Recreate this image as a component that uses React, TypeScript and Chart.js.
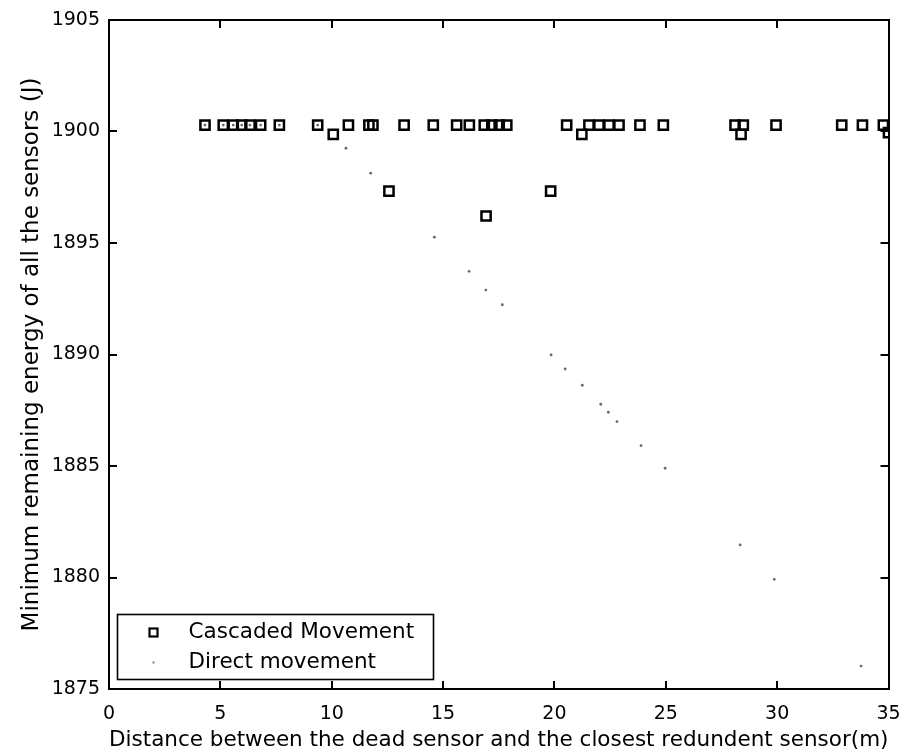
import React, { useEffect, useRef } from "react";
import { Chart, registerables } from "chart.js";

Chart.register(...registerables);

const cascadedX = [4.31, 5.13, 5.58, 5.96, 6.33, 6.81, 7.65, 9.37, 10.07, 10.75, 11.67, 11.85, 12.57, 13.25, 14.56, 15.61, 16.18, 16.85, 16.93, 17.19, 17.52, 17.86, 19.83, 20.55, 21.23, 21.55, 22.0, 22.45, 22.9, 23.84, 24.89, 28.11, 28.38, 28.48, 29.95, 32.9, 33.83, 34.77, 35.0];
const cascadedY = [1900.29, 1900.29, 1900.29, 1900.29, 1900.29, 1900.29, 1900.29, 1900.29, 1899.87, 1900.29, 1900.29, 1900.29, 1897.33, 1900.29, 1900.29, 1900.29, 1900.29, 1900.29, 1896.21, 1900.29, 1900.29, 1900.29, 1897.33, 1900.29, 1899.87, 1900.29, 1900.29, 1900.29, 1900.29, 1900.29, 1900.29, 1900.29, 1899.87, 1900.29, 1900.29, 1900.29, 1900.29, 1900.29, 1899.95];

const directX = [4.31, 5.13, 5.58, 5.96, 6.33, 6.81, 7.65, 9.37, 10.64, 11.75, 14.61, 16.17, 16.92, 17.66, 19.85, 20.48, 21.25, 22.08, 22.42, 22.81, 23.89, 24.97, 28.34, 29.87, 33.77];
const directY = [1900.29, 1900.29, 1900.29, 1900.29, 1900.29, 1900.29, 1900.29, 1900.29, 1899.25, 1898.13, 1895.26, 1893.73, 1892.89, 1892.23, 1889.98, 1889.35, 1888.62, 1887.77, 1887.41, 1886.99, 1885.91, 1884.9, 1881.46, 1879.92, 1876.03];

const seriesLabels = ["Cascaded Movement", "Direct movement"];
const xTitle = "Distance between the dead sensor and the closest redundent sensor(m)";
const yTitle = "Minimum remaining energy of all the sensors (J)";
const xRange = [0, 35, 5];
const yRange = [1875, 1905, 5];

const FONT = "'DejaVu Sans', sans-serif";

const legendPlugin = {
  id: "boxLegend",
  afterDraw(chart: any) {
    const { ctx, chartArea } = chart;
    const left = chartArea.left + 8.5;
    const bottom = chartArea.bottom - 9.5;
    const w = 316;
    const h = 65;
    const top = bottom - h;
    ctx.save();
    ctx.fillStyle = "#ffffff";
    ctx.fillRect(left, top, w, h);
    ctx.strokeStyle = "#000000";
    ctx.lineWidth = 1.6;
    ctx.strokeRect(left, top, w, h);
    ctx.font = `21.5px ${FONT}`;
    ctx.textBaseline = "middle";
    ctx.textAlign = "left";
    ctx.fillStyle = "#000000";
    const rows = [top + 18, top + 48];
    chart.data.datasets.forEach((ds: any, i: number) => {
      const y = rows[i];
      const mx = left + 36;
      if (i === 0) {
        ctx.lineWidth = 2.2;
        ctx.strokeStyle = "#000000";
        ctx.strokeRect(mx - 4, y - 4, 8, 8);
      } else {
        ctx.fillStyle = "#808080";
        ctx.fillRect(mx - 1, y - 1, 2, 2);
      }
      ctx.fillStyle = "#000000";
      ctx.fillText(ds.label, left + 71, y);
    });
    ctx.restore();
  },
};

function fixSize(prop: "width" | "height", v: number) {
  return (scale: any) => {
    scale[prop] = v;
    scale.paddingLeft = 0;
    scale.paddingRight = 0;
    scale.paddingTop = 0;
    scale.paddingBottom = 0;
  };
}

const plainTick = (v: any) => String(v);

export default function App() {
  const ref = useRef<HTMLCanvasElement | null>(null);
  useEffect(() => {
    if (!ref.current) return;
    const cascaded = cascadedX.map((x, i) => ({ x, y: cascadedY[i] }));
    const direct = directX.map((x, i) => ({ x, y: directY[i] }));
    const tickLen = -8;
    const border = { display: true, color: "#000000", width: 2 };
    const grid = { drawOnChartArea: false, drawTicks: true, tickLength: tickLen, color: "#000000", lineWidth: 2 };
    const chart = new Chart(ref.current, {
      type: "scatter",
      data: {
        datasets: [
          {
            label: seriesLabels[0],
            data: cascaded,
            pointStyle: "rect",
            pointRadius: 6.5,
            pointBorderWidth: 2.5,
            borderColor: "#000000",
            backgroundColor: "rgba(0,0,0,0)",
            clip: 0,
          } as any,
          {
            label: seriesLabels[1],
            data: direct,
            pointStyle: "circle",
            pointRadius: 1.4,
            pointBorderWidth: 0,
            borderColor: "rgba(0,0,0,0)",
            backgroundColor: "#6a6a6a",
            clip: 0,
          } as any,
        ],
      },
      options: {
        responsive: false,
        animation: false,
        events: [],
        layout: { padding: { left: 0, top: 20, right: 10.5, bottom: 0 }, autoPadding: false } as any,
        plugins: { legend: { display: false }, tooltip: { enabled: false } },
        scales: {
          x: {
            type: "linear",
            position: "bottom",
            min: xRange[0],
            max: xRange[1],
            border,
            grid,
            ticks: { stepSize: xRange[2], autoSkip: false, maxRotation: 0, padding: 22, color: "#000000", font: { family: FONT, size: 19 }, callback: plainTick },
            title: { display: true, text: xTitle, color: "#000000", font: { family: FONT, size: 21.5 }, padding: { top: 0, bottom: 1 } },
            afterFit: fixSize("height", 65),
          },
          x2: {
            type: "linear",
            position: "top",
            min: xRange[0],
            max: xRange[1],
            border,
            grid,
            ticks: { stepSize: xRange[2], autoSkip: false, display: false },
            afterFit: fixSize("height", 0),
          },
          y: {
            type: "linear",
            position: "left",
            min: yRange[0],
            max: yRange[1],
            border,
            grid,
            ticks: { stepSize: yRange[2], autoSkip: false, padding: 17, color: "#000000", font: { family: FONT, size: 19 }, callback: plainTick },
            title: { display: true, text: yTitle, color: "#000000", font: { family: FONT, size: 23 }, padding: { top: 18, bottom: 0 } },
            afterFit: fixSize("width", 109),
          },
          y2: {
            type: "linear",
            position: "right",
            min: yRange[0],
            max: yRange[1],
            border,
            grid,
            ticks: { stepSize: yRange[2], autoSkip: false, display: false },
            afterFit: fixSize("width", 0),
          },
        },
      } as any,
      plugins: [legendPlugin],
    });
    return () => chart.destroy();
  }, []);
  return (
    <div style={{ position: "absolute", left: 0, top: 0, width: 899, height: 754, background: "#ffffff" }}>
      <canvas ref={ref} width={899} height={754} style={{ display: "block", width: 899, height: 754 }} />
    </div>
  );
}
